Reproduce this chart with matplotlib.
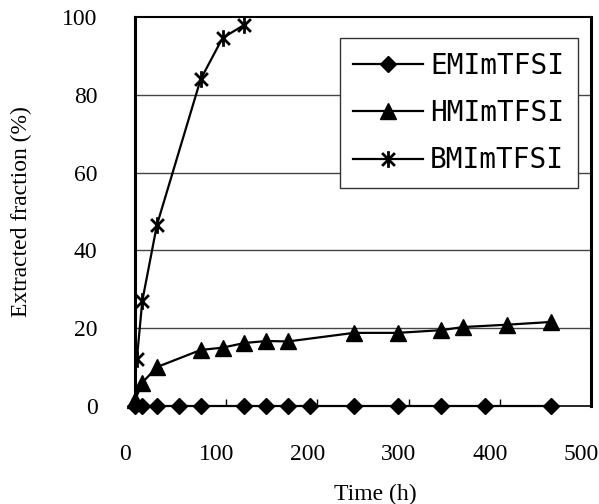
import numpy as np
import matplotlib.pyplot as plt
from matplotlib.path import Path
from matplotlib.transforms import ScaledTranslation

# data
t_em = [0, 8, 24, 48, 72, 120, 144, 168, 192, 240, 288, 336, 384, 456]
y_em = [0, 0, 0, 0, 0, 0, 0, 0, 0, 0, 0, 0, 0, 0]

t_hm = [0, 8, 24, 72, 96, 120, 144, 168, 240, 288, 336, 360, 408, 456]
y_hm = [1.5, 6, 10, 14.4, 15, 16.2, 16.7, 16.6, 18.8, 18.8, 19.5, 20.3, 20.9, 21.6]

t_bm = [2, 8, 24, 72, 96, 120]
y_bm = [12, 27, 46.5, 84, 94.6, 98]

labels = ['EMImTFSI', 'HMImTFSI', 'BMImTFSI']
xticks = [0, 100, 200, 300, 400, 500]
yticks = [0, 20, 40, 60, 80, 100]

# Excel style star: X plus vertical bar
star = Path([(-1, -1), (1, 1), (-1, 1), (1, -1), (0, -1.3), (0, 1.3)],
            [Path.MOVETO, Path.LINETO, Path.MOVETO, Path.LINETO, Path.MOVETO, Path.LINETO])

fig = plt.figure(figsize=(5.99, 5.04), dpi=100)
ax = fig.add_axes([135 / 599, 98 / 504, 456 / 599, 389 / 504])

for y in yticks[1:-1]:
    ax.axhline(y, color='#444444', lw=1.0, zorder=0)

ax.plot(t_em, y_em, '-', color='black', lw=1.6, marker='D', ms=8.5,
        label=labels[0], clip_on=False, zorder=3)
ax.plot(t_hm, y_hm, '-', color='black', lw=1.6, marker='^', ms=12,
        label=labels[1], clip_on=False, zorder=3)
ax.plot(t_bm, y_bm, '-', color='black', lw=1.6, marker=star, ms=12, mew=2,
        mfc='none', mec='black', label=labels[2], zorder=3)

ax.set_xlim(0, 500)
ax.set_ylim(0, 100)
ax.set_xticks(xticks)
ax.set_yticks(yticks)

serif = 'Liberation Serif'
ax.tick_params(axis='x', direction='in', length=5, width=1, pad=27, labelsize=17)
ax.tick_params(axis='y', length=0, pad=27, labelsize=17)
for lab in ax.get_xticklabels() + ax.get_yticklabels():
    lab.set_fontfamily(serif)
shift = ScaledTranslation(-0.1, 0, fig.dpi_scale_trans)
for lab in ax.get_xticklabels():
    lab.set_transform(lab.get_transform() + shift)

ax.spines['left'].set_linewidth(2.2)
ax.spines['right'].set_linewidth(2.2)
ax.spines['top'].set_linewidth(1.5)
ax.spines['bottom'].set_linewidth(1.2)

ax.set_xlabel('Time (h)', fontsize=17, fontfamily=serif)
ax.set_ylabel('Extracted fraction (%)', fontsize=17, fontfamily=serif)
ax.xaxis.set_label_coords(0.527, -0.2)
ax.yaxis.set_label_coords(-0.225, 0.5)

leg = ax.legend(loc='upper right', bbox_to_anchor=(0.971, 0.946), borderaxespad=0,
                fancybox=False, framealpha=1, edgecolor='#333333',
                prop={'family': 'DejaVu Sans Mono', 'size': 20},
                handlelength=2.5, handletextpad=0.25, labelspacing=0.69,
                borderpad=0.5)
leg.get_frame().set_linewidth(1.0)

fig.savefig('out.png', dpi=100)
